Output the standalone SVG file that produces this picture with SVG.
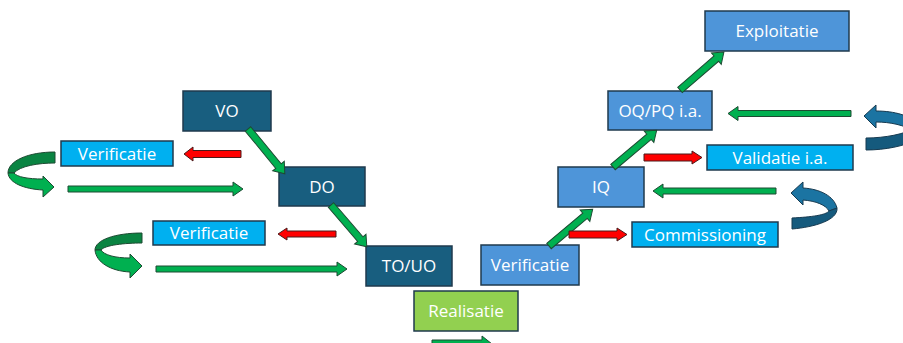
<svg xmlns="http://www.w3.org/2000/svg" width="903" height="343" viewBox="0 0 903 343">
<style>
.box{stroke:#1f3a4d;stroke-width:1.5}
.dark{fill:#185E7F}
.cyan{fill:#00B0F0}
.mid{fill:#4E95D9}
.lime{fill:#92D050}
.t{font-family:"Open Sans","Liberation Sans",sans-serif;font-size:17px;fill:#ffffff;text-anchor:middle}
.g{fill:#00B050;stroke:#1d4a32;stroke-width:1}
.r{fill:#FF0000;stroke:#4a1a1a;stroke-width:1}
.gb{fill:#0a8442;stroke:#1d4a32;stroke-width:1}
.bu{fill:#1B74A2;stroke:#173a50;stroke-width:1}
.bd{fill:#155A7D;stroke:#173a50;stroke-width:1}
</style>
<rect width="903" height="343" fill="#ffffff"/>
<g id="nodes">
<g id="vo"><rect class="box dark" x="183" y="91" width="88" height="40"/><text class="t" x="227" y="117">VO</text></g>
<g id="do"><rect class="box dark" x="279" y="167" width="86" height="39"/><text class="t" x="322" y="192.5">DO</text></g>
<g id="touo"><rect class="box dark" x="366" y="246" width="86" height="40"/><text class="t" x="409" y="272">TO/UO</text></g>
<g id="realisatie"><rect class="box lime" x="414" y="291" width="104" height="40"/><text class="t" x="466" y="317">Realisatie</text></g>
<g id="verificatie-r"><rect class="box mid" x="481" y="245" width="98" height="40"/><text class="t" x="530" y="271">Verificatie</text></g>
<g id="iq"><rect class="box mid" x="558" y="167" width="86" height="40"/><text class="t" x="601" y="193">IQ</text></g>
<g id="oqpq"><rect class="box mid" x="608" y="91" width="104" height="39"/><text class="t" x="660" y="116.5">OQ/PQ i.a.</text></g>
<g id="exploitatie"><rect class="box mid" x="705" y="11" width="144" height="40"/><text class="t" x="777" y="37">Exploitatie</text></g>
<g id="commissioning"><rect class="box cyan" x="632" y="222" width="146" height="25"/><text class="t" x="705" y="240.5">Commissioning</text></g>
<g id="validatie"><rect class="box cyan" x="707" y="145" width="146" height="25"/><text class="t" x="780" y="163.5">Validatie i.a.</text></g>
<g id="verificatie-l1"><rect class="box cyan" x="61" y="141" width="112" height="25"/><text class="t" x="117" y="159.5">Verificatie</text></g>
<g id="verificatie-l2"><rect class="box cyan" x="153" y="221" width="112" height="24"/><text class="t" x="209" y="239">Verificatie</text></g>
</g>
<g id="connectors">
<!-- diagonal arrows -->
<path class="g" transform="translate(248,129) rotate(50.6)" d="M0,-3.5 L48,-3.5 L48,-7.5 L58,0 L48,7.5 L48,3.5 L0,3.5 Z"/>
<path class="g" transform="translate(331,205) rotate(49.4)" d="M0,-3.5 L45,-3.5 L45,-7.5 L55,0 L45,7.5 L45,3.5 L0,3.5 Z"/>
<path class="g" transform="translate(549,246) rotate(-40)" d="M0,-3.5 L47,-3.5 L47,-7.5 L57,0 L47,7.5 L47,3.5 L0,3.5 Z"/>
<path class="g" transform="translate(613,167) rotate(-40)" d="M0,-3.5 L47,-3.5 L47,-7.5 L57,0 L47,7.5 L47,3.5 L0,3.5 Z"/>
<path class="g" transform="translate(680,90) rotate(-40.8)" d="M0,-3.5 L48,-3.5 L48,-7.5 L58,0 L48,7.5 L48,3.5 L0,3.5 Z"/>
<!-- horizontal arrows -->
<path class="r" d="M184,154 L193,147 L193,150.5 L241,150.5 L241,157.5 L193,157.5 L193,161 Z"/>
<path class="g" d="M68,186 L233,186 L233,182 L243,189 L233,196 L233,192 L68,192 Z"/>
<path class="r" d="M278,234 L287,228 L287,231 L336,231 L336,237 L287,237 L287,240 Z"/>
<path class="g" d="M156,266 L337,266 L337,262 L347,269 L337,276 L337,272 L156,272 Z"/>
<path class="r" d="M644,154 L692,154 L692,151 L702,157.5 L692,164 L692,161 L644,161 Z"/>
<path class="r" d="M569,231 L617,231 L617,228 L627,234.5 L617,241 L617,238 L569,238 Z"/>
<path class="g" d="M653,191 L663,184 L663,188 L776,188 L776,194 L663,194 L663,198 Z"/>
<path class="g" d="M728,113.5 L738,106.5 L738,110.5 L851,110.5 L851,116.5 L738,116.5 L738,120.5 Z"/>
<path class="g" d="M432,340 L482,340 L482,336 L492,344 L482,352 L482,348 L432,348 Z"/>
<!-- curved arrows left -->
<path class="gb" d="M55,152 L55,163 C38,163 20,166 14,173 L8,173 C8,161 28,152 55,152 Z"/>
<path class="g" d="M8,173 C9,183 24,189 43,190 L43,197 L54,187 L43,176 L43,179 C28,179 17,177 14,173 Z"/>
<path class="gb" d="M142,233 L142,243 C125,243 105,245 101,250 L95,250 C95,240 115,233 142,233 Z"/>
<path class="g" d="M95,250 C96,262 110,271 130,272 L130,278 L142,266 L130,254 L130,258 C115,258 104,255 101,250 Z"/>
<!-- curved arrows right -->
<path class="bu" d="M864,116 L876,105 L876,111 C895,111 910,116 915,122 L915,132 C905,125 890,122 876,122 L876,128 Z"/>
<path class="bd" d="M866,138 C885,138 905,134 915,128 L915,140 C905,146 885,150 866,150 Z"/>
<path class="bu" d="M791,193 L803,182 L803,188 C820,189 834,196 837,208 L829,211 C826,205 816,201 803,200 L803,205 Z"/>
<path class="bd" d="M837,208 C838,220 815,227 792,229 L792,218 C812,217 826,215 829,211 Z"/>
</g>
</svg>
